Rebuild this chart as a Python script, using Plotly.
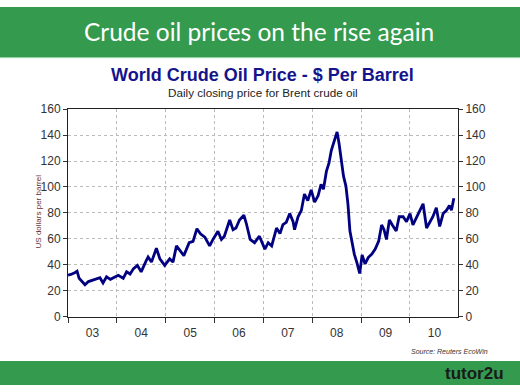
import plotly.graph_objects as go

# Daily closing price for Brent crude oil, US$ per barrel
dates = [
    "2003-01-01", "2003-01-22", "2003-02-24", "2003-03-10", "2003-03-25", "2003-04-20",
    "2003-05-08", "2003-06-03", "2003-07-01", "2003-08-03", "2003-08-28", "2003-09-20",
    "2003-10-16", "2003-11-14", "2003-12-17",
    "2004-01-12", "2004-02-18", "2004-03-14", "2004-04-09", "2004-05-05", "2004-06-03",
    "2004-07-01", "2004-08-07", "2004-08-22", "2004-09-16", "2004-10-23", "2004-11-18",
    "2004-12-24",
    "2005-01-30", "2005-02-24", "2005-03-22", "2005-04-16", "2005-05-16", "2005-06-25",
    "2005-07-24", "2005-08-22", "2005-09-17", "2005-10-20", "2005-11-25", "2005-12-20",
    "2006-01-26", "2006-02-21", "2006-03-15", "2006-04-24", "2006-05-19", "2006-06-10",
    "2006-07-06", "2006-08-08", "2006-08-26", "2006-09-24", "2006-10-27", "2006-12-02",
    "2007-01-12", "2007-02-06", "2007-03-04", "2007-04-09", "2007-05-05", "2007-05-27",
    "2007-06-21", "2007-07-17", "2007-08-11", "2007-08-22", "2007-09-17", "2007-10-12",
    "2007-11-04", "2007-11-29", "2007-12-24",
    "2008-01-19", "2008-02-14", "2008-03-07", "2008-03-25", "2008-04-16", "2008-05-05",
    "2008-05-23", "2008-06-10", "2008-06-25", "2008-07-05", "2008-07-20", "2008-08-07",
    "2008-08-22", "2008-09-09", "2008-09-24", "2008-10-09", "2008-10-27", "2008-11-11",
    "2008-11-29", "2008-12-21",
    "2009-01-08", "2009-01-30", "2009-02-24", "2009-03-22", "2009-04-16", "2009-05-12",
    "2009-06-03", "2009-06-21", "2009-07-09", "2009-07-31", "2009-08-22", "2009-09-20",
    "2009-10-12", "2009-11-11", "2009-12-06",
    "2010-01-01", "2010-01-23", "2010-02-21", "2010-03-14", "2010-04-09", "2010-05-05",
    "2010-05-30", "2010-06-21", "2010-07-17", "2010-08-11", "2010-09-06", "2010-10-01",
    "2010-10-23", "2010-11-07", "2010-11-25",
]
prices = [
    32, 32.5, 34, 35, 29.5, 26,
    24.5, 27, 28, 29.5, 30, 26,
    30.7, 28.7, 30.7,
    31.8, 29.5, 34.5, 32.8, 37, 39.5,
    34.5, 43, 46, 42, 52.7, 44.5,
    39.5,
    44.5, 42, 54.5, 51, 47, 57,
    58, 67.8, 63.8, 61.3, 54.5, 59.5,
    65.8, 59.5, 62, 74.5, 67, 68.3,
    74.5, 78.2, 72, 59.5, 57, 62,
    52, 57, 54.5, 68.3, 64, 71,
    72.7, 79.5, 73.2, 67, 77, 82,
    94.5, 89.5, 97.7,
    88.3, 93.3, 102, 98.3, 112, 118.3,
    128.3, 134.5, 140.8, 142.5, 133.3, 119.5,
    108.3, 100.7, 87, 66, 57, 48,
    42, 33.2,
    47.5, 40.7, 45.7, 48.2, 52, 58.3,
    70.7, 67, 59.5, 74.5, 70.7, 66,
    77, 77, 73.2,
    79.5, 70.7, 77, 80.8, 87, 68.3,
    73.2, 77, 84, 69.5, 79.5, 82,
    85.7, 82, 91.3,
]

GREEN = "#339A4E"
NAVY = "#000080"
GRID = "#BBBBBB"
AXIS_FONT = dict(family="Liberation Sans, Arial, sans-serif", size=12, color="#333333")

fig = go.Figure()
fig.add_trace(go.Scatter(x=dates, y=prices, mode="lines",
                         line=dict(color=NAVY, width=2.8), showlegend=False,
                         hoverinfo="x+y"))
# invisible copy to activate right-hand axis
fig.add_trace(go.Scatter(x=dates, y=prices, mode="lines", yaxis="y2",
                         line=dict(color="rgba(0,0,0,0)", width=0), showlegend=False,
                         hoverinfo="skip"))

x0, x1 = 68 / 520, 458 / 520
y0, y1 = (392 - 321) / 392, (392 - 106) / 392

fig.update_layout(
    width=520, height=392, autosize=False,
    margin=dict(l=0, r=0, t=0, b=0),
    paper_bgcolor="white", plot_bgcolor="white",
    xaxis=dict(domain=[x0, x1], type="date",
               range=["2003-01-01", "2010-12-26"],
               dtick="M12", tick0="2003-01-01", tickformat="%y",
               ticklabelmode="period",
               ticks="outside", ticklen=5, tickcolor="#333333",
               showgrid=True, gridcolor=GRID, griddash="dot", gridwidth=1,
               showline=True, linecolor="#222222", linewidth=1, mirror=True,
               tickfont=AXIS_FONT, zeroline=False),
    yaxis=dict(domain=[y0, y1], range=[0, 160], dtick=20,
               ticks="outside", ticklen=4, tickcolor="#333333",
               showgrid=True, gridcolor=GRID, griddash="dot", gridwidth=1,
               showline=True, linecolor="#222222", linewidth=1, mirror=True,
               tickfont=AXIS_FONT, zeroline=False),
    yaxis2=dict(overlaying="y", side="right", range=[0, 160], dtick=20,
                ticks="outside", ticklen=4, tickcolor="#333333",
                showgrid=False, showline=False, zeroline=False,
                tickfont=AXIS_FONT),
)

# header and footer bands
fig.add_shape(type="rect", xref="paper", yref="paper", x0=0, x1=1,
              y0=(392 - 52) / 392, y1=1, fillcolor=GREEN, line_width=0, layer="below")
fig.add_shape(type="line", xref="paper", yref="paper", x0=0, x1=1,
              y0=(392 - 52.5) / 392, y1=(392 - 52.5) / 392,
              line=dict(color="#8FCB9E", width=1))
fig.add_shape(type="rect", xref="paper", yref="paper", x0=0, x1=1,
              y0=0, y1=(392 - 367) / 392, fillcolor=GREEN, line_width=0, layer="below")


def label(text, x, y, size, color, family="Liberation Sans, Arial, sans-serif", angle=0):
    fig.add_annotation(text=text, xref="paper", yref="paper",
                       x=x / 520, y=(392 - y) / 392, showarrow=False,
                       xanchor="center", yanchor="middle", textangle=angle,
                       font=dict(family=family, size=size, color=color))


label("Crude oil prices on the rise again", 259, 25, 24.5, "white",
      family="Lato, Open Sans, sans-serif")
label("<b>World Crude Oil Price - $ Per Barrel</b>", 262, 70, 18, "#14148C")
label("Daily closing price for Brent crude oil", 263, 89, 11.7, "#222222")
label("US dollars per barrel", 38, 212, 8, "#663333", angle=-90)
label("<i>Source: Reuters EcoWin</i>", 449, 357, 7, "#333333")
label("<b>tutor2u</b>", 474, 380, 17, "#1A1A1A")

fig.write_html("out.html", config={"displayModeBar": False},
               post_script="document.body.style.margin='0';document.body.style.overflow='hidden';")
